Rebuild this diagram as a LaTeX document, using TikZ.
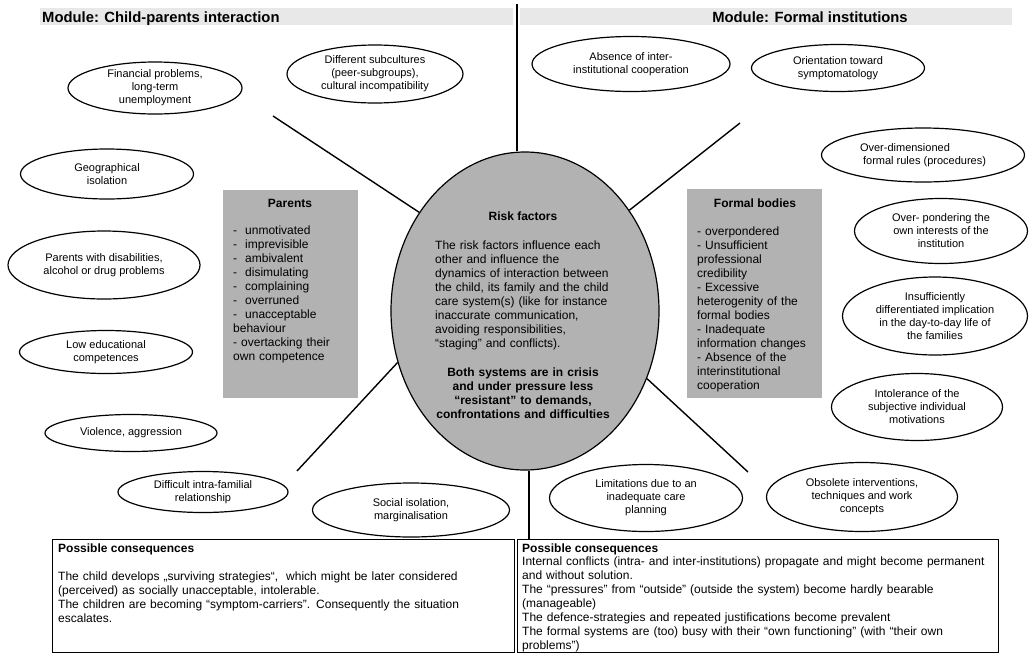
\documentclass[tikz,border=0pt]{standalone}
\usepackage{fontspec}
\setmainfont{Liberation Sans}
\usetikzlibrary{shapes.geometric}

\definecolor{riskgray}{gray}{0.70}
\definecolor{bargray}{gray}{0.91}

\begin{document}
\begin{tikzpicture}[
  x=1pt, y=-1pt,
  factor/.style={draw, ellipse, line width=1.2pt, inner sep=0pt, align=center,
                 font=\fontsize{11}{13}\selectfont},
  attrbox/.style={fill=riskgray, anchor=north west, inner sep=0pt},
  listtext/.style={anchor=base west, inner sep=0pt, align=left,
                   font=\fontsize{12}{14}\selectfont},
  boxtitle/.style={anchor=base, inner sep=0pt,
                   font=\fontsize{12}{14}\selectfont\bfseries},
  modbar/.style={fill=bargray, anchor=north west, inner sep=0pt, minimum height=17pt},
  modtitle/.style={anchor=base, inner sep=0pt,
                   font=\fontsize{14.8}{17}\selectfont\bfseries},
  spoke/.style={line width=1.4pt},
  divider/.style={line width=2.8pt},
  conbox/.style={draw, line width=1.2pt, anchor=north west, inner sep=0pt,
                 minimum height=113pt},
]
  \useasboundingbox (0,0) rectangle (1029,654);

  % Module headers
  \node[modbar, minimum width=473pt] (barleft) at (40,8) {};
  \node[modbar, minimum width=492pt] (barright) at (520,8) {};
  \node[modtitle, anchor=base west] (titleleft) at (42,22) {Module: Child-parents interaction};
  \node[modtitle] (titleright) at (810,22) {Module: Formal institutions};

  % Central ellipse
  \node[ellipse, draw, line width=1.2pt, fill=riskgray, inner sep=0pt,
        minimum width=268pt, minimum height=318pt] (risk) at (525,311) {};
  \node[boxtitle] (risktitle) at (523,220) {Risk factors};
  \node[listtext, text width=200pt] (risktext) at (435,249)
    {The risk factors influence each\\ other and influence the\\
     dynamics of interaction between\\ the child, its family and the child\\
     care system(s) (like for instance\\ inaccurate communication,\\
     avoiding responsibilities,\\ “staging” and conflicts).};
  \node[boxtitle, text width=200pt, align=center] (riskbold) at (523,376)
    {Both systems are in crisis\\ and under pressure less\\
     “resistant” to demands,\\ confrontations and difficulties};

  % Parents and formal bodies
  \node[attrbox, minimum width=135pt, minimum height=208pt] (parents) at (223,190) {};
  \node[boxtitle] (parentstitle) at (290,207) {Parents};
  \node[listtext, text width=125pt] (parentslist) at (233,234)
    {-\ \ unmotivated\\ -\ \ imprevisible\\ -\ \ ambivalent\\ -\ \ disimulating\\
     -\ \ complaining\\ -\ \ overruned\\ -\ \ unacceptable\\ behaviour\\
     - overtacking their\\ own competence};
  \node[attrbox, minimum width=135pt, minimum height=209pt] (formal) at (687,189) {};
  \node[boxtitle] (formaltitle) at (755,207) {Formal bodies};
  \node[listtext, text width=125pt] (formallist) at (697,235)
    {- overpondered\\ - Unsufficient\\ professional\\ credibility\\ - Excessive\\
     heterogenity of the\\ formal bodies\\ - Inadequate\\ information changes\\
     - Absence of the\\ interinstitutional\\ cooperation};

  % Risk factors: child-parents side
  \node[factor, minimum width=174pt, minimum height=52pt] (finance) at (155,88)
    {Financial problems,\\ long-term\\ unemployment};
  \node[factor, minimum width=176pt, minimum height=58pt] (subcult) at (375,74)
    {Different subcultures\\ (peer-subgroups),\\ cultural incompatibility};
  \node[factor, minimum width=173pt, minimum height=50pt] (geo) at (107,174)
    {Geographical\\ isolation};
  \node[factor, minimum width=192pt, minimum height=68pt] (disab) at (104,265)
    {Parents with disabilities,\\ alcohol or drug problems};
  \node[factor, minimum width=173pt, minimum height=43pt] (educ) at (106,352)
    {Low educational\\ competences};
  \node[factor, minimum width=172pt, minimum height=37pt] (violence) at (131,433)
    {Violence, aggression};
  \node[factor, minimum width=170pt, minimum height=41pt] (intra) at (203,492)
    {Difficult intra-familial\\ relationship};
  \node[factor, minimum width=197pt, minimum height=54pt] (social) at (411,510)
    {Social isolation,\\ marginalisation};

  % Risk factors: institutions side
  \node[factor, minimum width=198pt, minimum height=55pt] (coop) at (631,64)
    {Absence of inter-\\ institutional cooperation};
  \node[factor, minimum width=173pt, minimum height=47pt] (symptom) at (838,68)
    {Orientation toward\\ symptomatology};
  \node[factor, align=left, minimum width=203pt, minimum height=54pt] (rules) at (923,155)
    {Over-dimensioned\\ \ formal rules (procedures)};
  \node[factor, minimum width=173pt, minimum height=65pt] (ponder) at (941,231)
    {Over- pondering the\\ own interests of the\\ institution};
  \node[factor, minimum width=185pt, minimum height=78pt] (daily) at (935,316)
    {Insufficiently\\ differentiated implication\\ in the day-to-day life of\\ the families};
  \node[factor, minimum width=171pt, minimum height=67pt] (intol) at (917,407)
    {Intolerance of the\\ subjective individual\\ motivations};
  \node[factor, minimum width=193pt, minimum height=67pt] (planning) at (646,498)
    {Limitations due to an\\ inadequate care\\ planning};
  \node[factor, minimum width=191pt, minimum height=69pt] (obsolete) at (862,497)
    {Obsolete interventions,\\ techniques and work\\ concepts};

  % Spokes and divider
  \coordinate (spokeNW) at (273,116);
  \coordinate (spokeSW) at (297,471);
  \coordinate (spokeNE) at (740,123);
  \coordinate (spokeSE) at (748,472);
  \draw[spoke] (spokeNW) -- (risk.137);
  \draw[spoke] (spokeSW) -- (risk.202);
  \draw[spoke] (spokeNE) -- (risk.44.5);
  \draw[spoke] (spokeSE) -- (risk.331);
  \coordinate (divtop) at (517,4);
  \draw[divider] (divtop) -- (divtop |- risk.north);

  % Possible consequences
  \node[conbox, minimum width=462pt] (conleft) at (52,539) {};
  \node[conbox, minimum width=481pt] (conright) at (517,539) {};
  \draw[divider] ([xshift=4pt]risk.south) -- ([xshift=4pt]risk.south |- conleft.north);
  \node[boxtitle, anchor=base west] (conlefttitle) at (58,552) {Possible consequences};
  \node[listtext, text width=445pt] (conlefttext) at (58,580)
    {The child develops „surviving strategies“,\ \ which might be later considered\\
     (perceived) as socially unacceptable, intolerable.\\
     The children are becoming “symptom-carriers”. Consequently the situation\\
     escalates.};
  \node[boxtitle, anchor=base west] (conrighttitle) at (522,552) {Possible consequences};
  \node[listtext, text width=475pt] (conrighttext) at (522,565)
    {Internal conflicts (intra- and inter-institutions) propagate and might become permanent\\
     and without solution.\\
     The “pressures” from “outside” (outside the system) become hardly bearable\\
     (manageable)\\
     The defence-strategies and repeated justifications become prevalent\\
     The formal systems are (too) busy with their “own functioning” (with “their own\\
     problems”)};
\end{tikzpicture}
\end{document}
